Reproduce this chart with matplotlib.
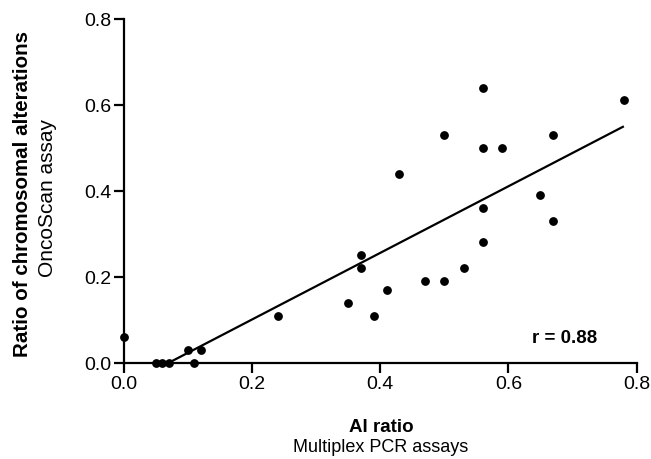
import matplotlib
matplotlib.use("Agg")
import matplotlib.pyplot as plt
import numpy as np

plt.rcParams['font.family'] = ['Liberation Sans', 'DejaVu Sans']

ai_ratio = [0.00, 0.05, 0.06, 0.07, 0.10, 0.11, 0.12, 0.24, 0.35, 0.37, 0.37, 0.39, 0.41, 0.43,
            0.47, 0.50, 0.50, 0.53, 0.56, 0.56, 0.56, 0.56, 0.59, 0.65, 0.67, 0.67, 0.78]
chrom_ratio = [0.06, 0.00, 0.00, 0.00, 0.03, 0.00, 0.03, 0.11, 0.14, 0.25, 0.22, 0.11, 0.17, 0.44,
               0.19, 0.19, 0.53, 0.22, 0.64, 0.50, 0.36, 0.28, 0.50, 0.39, 0.53, 0.33, 0.61]
fit_x = [0.07, 0.78]
fit_y = [0.00, 0.55]
xticks = [0.0, 0.2, 0.4, 0.6, 0.8]
yticks = [0.0, 0.2, 0.4, 0.6, 0.8]

fig = plt.figure(figsize=(6.51, 4.60), dpi=100)
ax = fig.add_axes([0.19, 0.209, 0.788, 0.748])

ax.plot(fit_x, fit_y, color='black', lw=1.6, solid_capstyle='butt')
ax.scatter(ai_ratio, chrom_ratio, s=28, color='black', zorder=3, clip_on=False)

ax.set_xlim(0, 0.8)
ax.set_ylim(0, 0.8)
ax.set_xticks(xticks)
ax.set_yticks(yticks)
ax.set_xticklabels([f"{t:.1f}" for t in xticks])
ax.set_yticklabels([f"{t:.1f}" for t in yticks])
for s in ['top', 'right']:
    ax.spines[s].set_visible(False)
for s in ['left', 'bottom']:
    ax.spines[s].set_linewidth(1.6)
ax.tick_params(direction='out', length=7, width=1.6, labelsize=14, pad=2, color='black')

ax.text(0.688, 0.06, 'r = 0.88', fontsize=13.5, fontweight='bold', ha='center', va='center')

fig.text(0.585, 0.071, 'AI ratio', fontsize=13.5, fontweight='bold', ha='center', va='center')
fig.text(0.585, 0.028, 'Multiplex PCR assays', fontsize=13, ha='center', va='center')
fig.text(0.034, 0.578, 'Ratio of chromosomal alterations', fontsize=14.8, fontweight='bold',
         rotation=90, ha='center', va='center')
fig.text(0.073, 0.57, 'OncoScan assay', fontsize=15, rotation=90, ha='center', va='center')

fig.savefig('out.png', dpi=100)
